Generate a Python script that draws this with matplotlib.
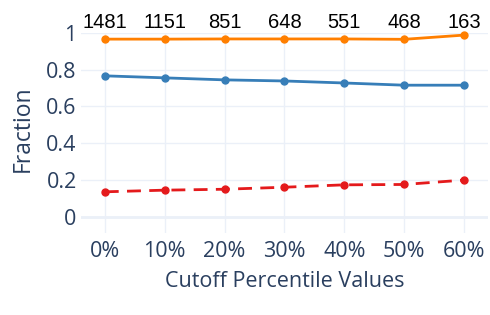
import matplotlib
matplotlib.use("Agg")
import matplotlib.pyplot as plt

categories = ["0%", "10%", "20%", "30%", "40%", "50%", "60%"]
counts = ["1481", "1151", "851", "648", "551", "468", "163"]
orange_vals = [0.967, 0.967, 0.968, 0.968, 0.968, 0.966, 0.989]
blue_vals = [0.767, 0.756, 0.745, 0.739, 0.728, 0.716, 0.716]
red_vals = [0.135, 0.144, 0.149, 0.160, 0.173, 0.175, 0.199]
yticks = [0, 0.2, 0.4, 0.6, 0.8, 1]
ytick_labels = ["0", "0.2", "0.4", "0.6", "0.8", "1"]

txt = "#2a3f5f"
grid = "#ebf0f8"
plt.rcParams["font.family"] = ["Open Sans", "DejaVu Sans"]

fig = plt.figure(figsize=(4.9, 3.15), dpi=100)
ax = fig.add_axes([0.165, 0.260, 0.831, 0.635])
x = list(range(len(categories)))

ax.plot(x, blue_vals, color="#377eb8", lw=2, marker="o", ms=5, zorder=3, clip_on=False)
ax.plot(x, orange_vals, color="#ff7f00", lw=2, marker="o", ms=5, zorder=3, clip_on=False)
ax.plot(x, red_vals, color="#e41a1c", lw=2, marker="o", ms=5, ls=(0, (5, 3)), zorder=3, clip_on=False)

ax.set_xlim(-0.4, 6.4)
ax.set_ylim(-0.09, 1.0)
ax.set_xticks(x)
ax.set_xticklabels(categories)
ax.set_yticks(yticks)
ax.set_yticklabels(ytick_labels)
ax.tick_params(length=0, labelsize=15.5, colors=txt)
ax.tick_params(axis="y", pad=3)
ax.tick_params(axis="x", pad=6)
ax.grid(True, color=grid, lw=1)
ax.axhline(0, color=grid, lw=2, zorder=1)
for s in ax.spines.values():
    s.set_visible(False)
ax.set_axisbelow(True)

ax.set_xlabel("Cutoff Percentile Values", fontsize=15.5, color=txt, labelpad=6)
ax.set_ylabel("Fraction", fontsize=16.5, color=txt)
ax.yaxis.set_label_coords(-0.112, 0.522)

for xi, c in zip(x, counts):
    ax.annotate(c, (xi, 1.0), xytext=(0, 1), textcoords="offset points",
                ha="center", va="bottom", fontsize=14.5, color="black",
                family=["Liberation Sans", "DejaVu Sans"], annotation_clip=False)

fig.savefig("out.png", dpi=100, facecolor="white")
